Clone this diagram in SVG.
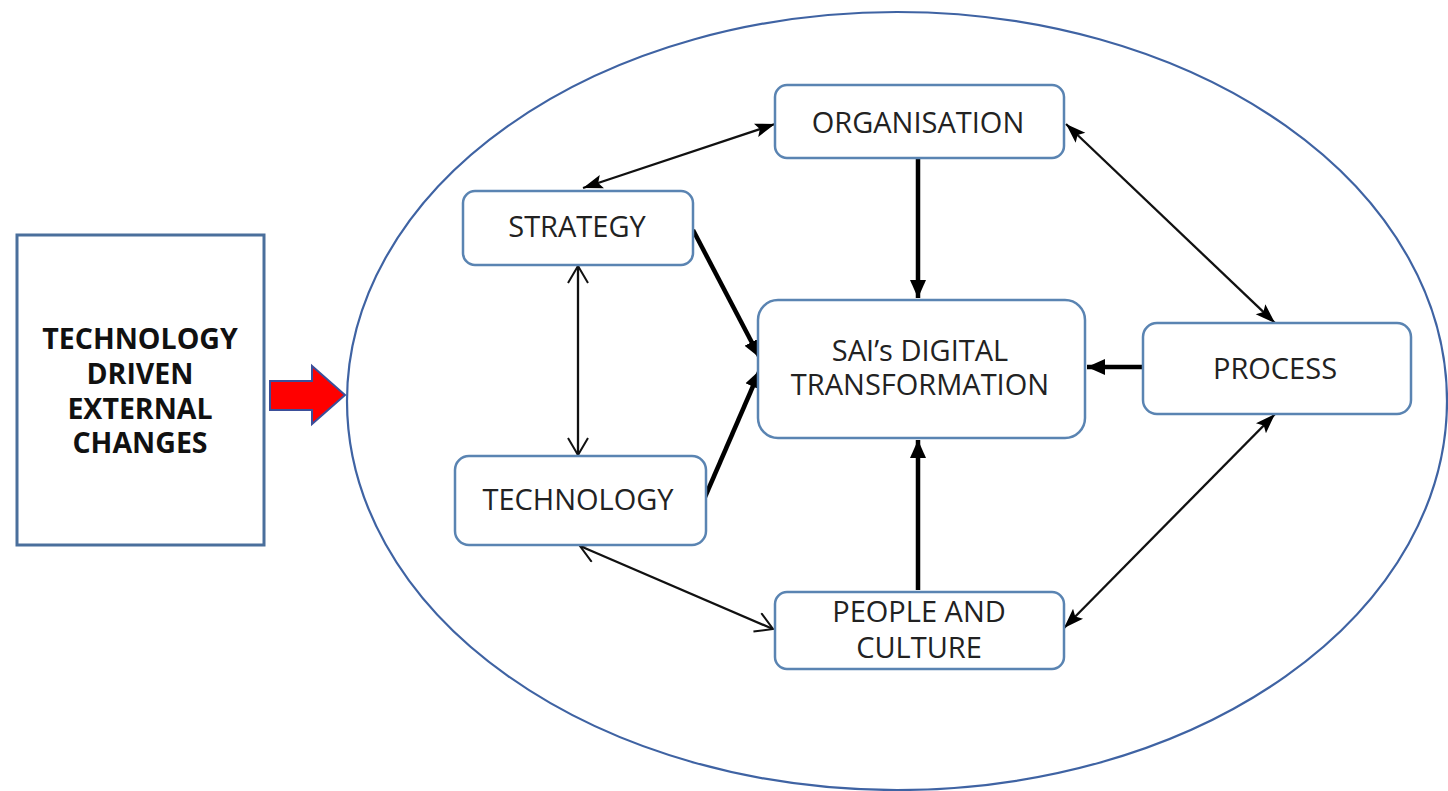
<svg xmlns="http://www.w3.org/2000/svg" width="1448" height="791" viewBox="0 0 1448 791">
<style>
.node{fill:#fff;stroke:#5a84b2;stroke-width:2.5}
.lbl{font-family:"Open Sans","Noto Sans",sans-serif;font-size:29px;fill:#222;text-anchor:middle}
.bold{font-family:"Open Sans","Noto Sans",sans-serif;font-size:28.5px;font-weight:bold;fill:#111;text-anchor:middle}
.thin{stroke:#111;stroke-width:2.3;fill:none}
.thick{stroke:#000;stroke-width:4.5;fill:none}
</style>
<defs>
<marker id="fa" markerUnits="userSpaceOnUse" markerWidth="22" markerHeight="16" refX="20" refY="8" orient="auto-start-reverse"><path d="M0,1 L20,8 L0,15 L4,8 Z" fill="#000"/></marker>
<marker id="ta" markerUnits="userSpaceOnUse" markerWidth="20" markerHeight="18" refX="18" refY="9" orient="auto"><path d="M0,1 L18,9 L0,17 Z" fill="#000"/></marker>
<marker id="oa" markerUnits="userSpaceOnUse" markerWidth="20" markerHeight="22" refX="18" refY="11" orient="auto-start-reverse"><path d="M1,1 L18,11 L1,21" fill="none" stroke="#111" stroke-width="2"/></marker>
</defs>
<rect width="1448" height="791" fill="#fff"/>
<ellipse cx="897" cy="401" rx="550" ry="389" fill="none" stroke="#3f63a3" stroke-width="2.2"/>
<g id="external">
<rect x="17" y="235" width="247" height="310" fill="#fff" stroke="#4a6f9c" stroke-width="3"/>
<text class="bold" x="140" y="349">TECHNOLOGY</text>
<text class="bold" x="140" y="384">DRIVEN</text>
<text class="bold" x="140" y="419">EXTERNAL</text>
<text class="bold" x="140" y="453">CHANGES</text>
</g>
<g id="red-arrow">
<path d="M270,381 L312,381 L312,366 L345,395 L312,424 L312,410 L270,410 Z" fill="#f00" stroke="#3b4f9a" stroke-width="2"/>
</g>
<g id="connectors">
<line class="thin" x1="583" y1="188" x2="775" y2="124" marker-start="url(#fa)" marker-end="url(#fa)"/>
<line class="thin" x1="1066" y1="124" x2="1275" y2="323" marker-start="url(#fa)" marker-end="url(#fa)"/>
<line class="thin" x1="1275" y1="414" x2="1064" y2="628" marker-start="url(#fa)" marker-end="url(#fa)"/>
<line class="thin" x1="578" y1="266" x2="578" y2="455" marker-start="url(#oa)" marker-end="url(#oa)"/>
<line class="thin" x1="580" y1="546" x2="773" y2="629" marker-start="url(#oa)" marker-end="url(#oa)"/>
<line class="thick" x1="918" y1="158" x2="918" y2="298" marker-end="url(#ta)"/>
<line class="thick" x1="693" y1="230" x2="760" y2="358" marker-end="url(#ta)"/>
<line class="thick" x1="705" y1="497" x2="760" y2="370" marker-end="url(#ta)"/>
<line class="thick" x1="1143" y1="367" x2="1087" y2="367" marker-end="url(#ta)"/>
<line class="thick" x1="918" y1="590" x2="918" y2="440" marker-end="url(#ta)"/>
</g>
<g id="organisation">
<rect class="node" x="775" y="85" width="289" height="73" rx="12"/>
<text class="lbl" x="918" y="133">ORGANISATION</text>
</g>
<g id="strategy">
<rect class="node" x="463" y="191" width="230" height="74" rx="12"/>
<text class="lbl" x="577" y="237">STRATEGY</text>
</g>
<g id="sai">
<rect class="node" x="758" y="300" width="327" height="138" rx="20"/>
<text class="lbl" x="920" y="361">SAI’s DIGITAL</text>
<text class="lbl" x="920" y="395">TRANSFORMATION</text>
</g>
<g id="process">
<rect class="node" x="1143" y="323" width="268" height="91" rx="14"/>
<text class="lbl" x="1275" y="379">PROCESS</text>
</g>
<g id="technology">
<rect class="node" x="455" y="456" width="251" height="89" rx="14"/>
<text class="lbl" x="578" y="510">TECHNOLOGY</text>
</g>
<g id="people">
<rect class="node" x="775" y="592" width="289" height="77" rx="12"/>
<text class="lbl" x="919" y="622">PEOPLE AND</text>
<text class="lbl" x="919" y="658">CULTURE</text>
</g>
</svg>
